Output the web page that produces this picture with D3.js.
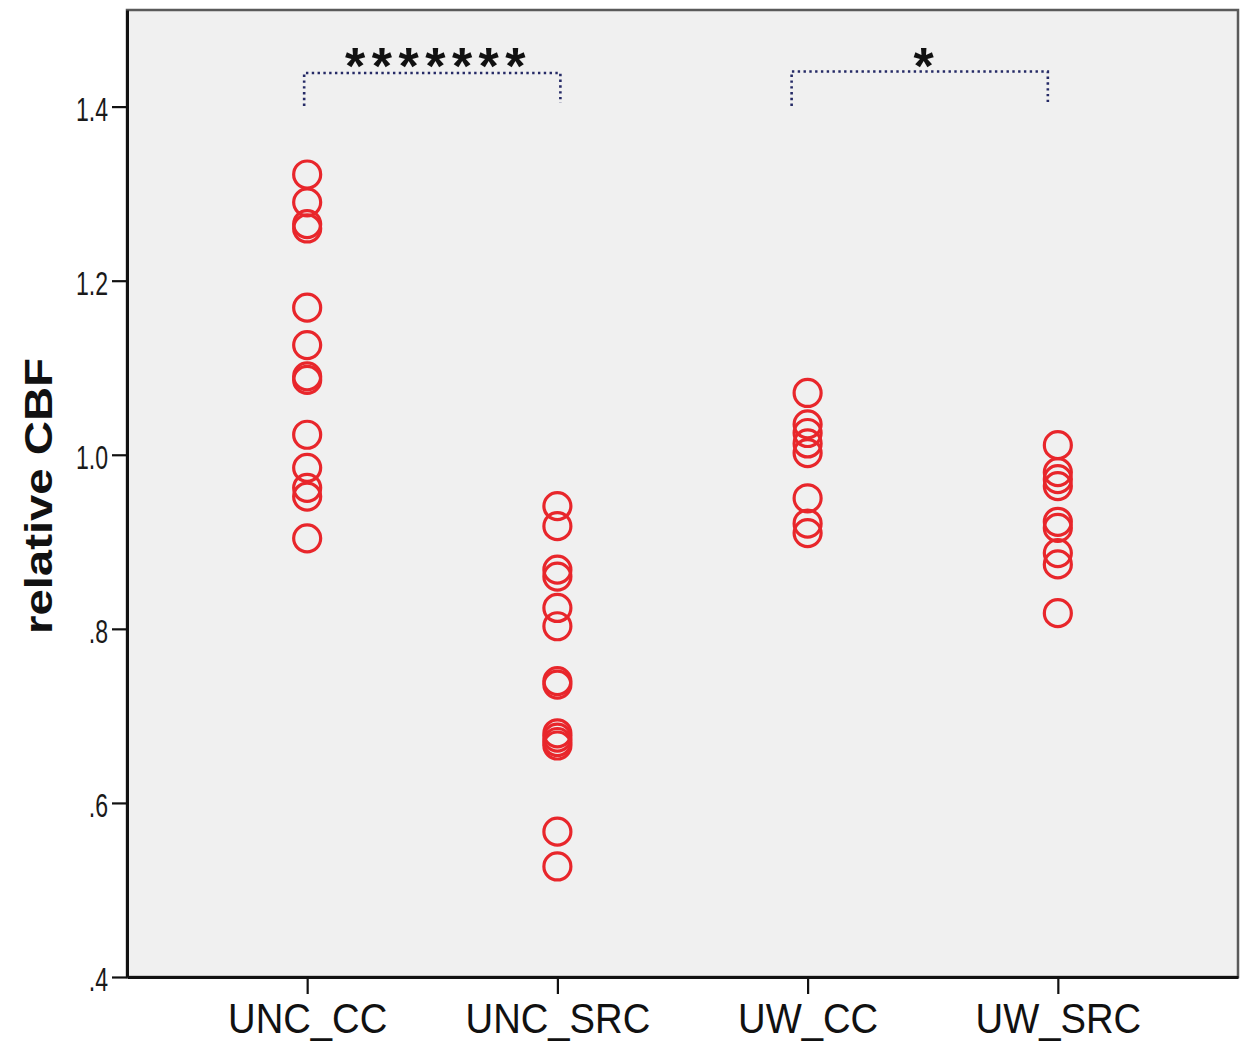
<!DOCTYPE html>
<html>
<head>
<meta charset="utf-8">
<script src="https://cdn.jsdelivr.net/npm/d3@7"></script>
<style>
  body { margin: 0; background: #fff; }
  svg text { font-family: "Liberation Sans", Arial, sans-serif; }
</style>
</head>
<body>
<div id="chart"></div>
<script>
// categories
const groups = ["UNC_CC", "UNC_SRC", "UW_CC", "UW_SRC"];

// relative CBF values per group
const uncCC  = [1.322, 1.290, 1.265, 1.260, 1.169, 1.126, 1.090, 1.086, 1.023, 0.985, 0.962, 0.952, 0.904];
const uncSRC = [0.941, 0.918, 0.868, 0.860, 0.824, 0.803, 0.740, 0.736, 0.680, 0.675, 0.670, 0.666, 0.567, 0.527];
const uwCC   = [1.071, 1.035, 1.025, 1.013, 1.002, 0.950, 0.921, 0.910];
const uwSRC  = [1.011, 0.980, 0.972, 0.964, 0.923, 0.916, 0.887, 0.874, 0.818];

const yTicks = [0.4, 0.6, 0.8, 1.0, 1.2, 1.4];

// significance brackets
const comparisons = [
    {from: "UNC_CC", to: "UNC_SRC", label: "*******"},
    {from: "UW_CC",  to: "UW_SRC",  label: "*"}
];

const seriesByGroup = [uncCC, uncSRC, uwCC, uwSRC];
const points = [];
groups.forEach(function (g, i) {
    seriesByGroup[i].forEach(function (v) { points.push({group: g, value: v}); });
});

var margin = {top: 10, right: 2, bottom: 74, left: 127},
    width = 1240 - margin.left - margin.right,
    height = 1051 - margin.top - margin.bottom;

var svg = d3.select("#chart")
    .append("svg")
    .attr("width", 1240)
    .attr("height", 1051)
    .append("g")
    .attr("transform", "translate(" + margin.left + "," + margin.top + ")");

var x = d3.scalePoint()
    .domain(groups)
    .range([0, width])
    .padding(0.72);

var y = d3.scaleLinear()
    .domain([0.4, 1.511])
    .range([height, 0]);

// plot background + frame (top/right grey)
svg.append("rect")
    .attr("width", width)
    .attr("height", height)
    .attr("fill", "#f0f0f0")
    .attr("stroke", "#5a5a5a")
    .attr("stroke-width", 2.5);

// Y axis
var yFmt = d3.format(".1f");
var yAxis = svg.append("g")
    .call(d3.axisLeft(y)
        .tickValues(yTicks)
        .tickSize(15)
        .tickSizeOuter(0)
        .tickFormat(function (d) { return d >= 1 ? yFmt(d) : yFmt(d).replace(/^0/, ""); }));
yAxis.select(".domain").attr("stroke", "#111").attr("stroke-width", 3);
yAxis.selectAll(".tick line").attr("stroke", "#111").attr("stroke-width", 2.2);
yAxis.selectAll(".tick text")
    .attr("x", -19 / 0.7)
    .attr("dy", "0.42em")
    .attr("transform", "scale(0.7,1)")
    .style("font-size", "33px")
    .attr("fill", "#1a1a1a");

// X axis
var xAxis = svg.append("g")
    .attr("transform", "translate(0," + height + ")")
    .call(d3.axisBottom(x).tickSize(17).tickSizeOuter(0));
xAxis.select(".domain").attr("stroke", "#111").attr("stroke-width", 3);
xAxis.selectAll(".tick line").attr("stroke", "#111").attr("stroke-width", 2.2);
xAxis.selectAll(".tick text")
    .attr("y", 0)
    .attr("dy", 0)
    .attr("transform", "translate(0,56) scale(0.91,1)")
    .style("font-size", "42px")
    .attr("fill", "#111");

// Y axis title
svg.append("text")
    .attr("transform", "translate(" + (52 - margin.left) + "," + (496 - margin.top) + ") rotate(-90)")
    .attr("text-anchor", "middle")
    .attr("textLength", 276)
    .attr("lengthAdjust", "spacingAndGlyphs")
    .style("font-size", "38px")
    .style("font-weight", "bold")
    .attr("fill", "#111")
    .text("relative CBF");

// Points
svg.append("g")
    .selectAll("circle")
    .data(points)
    .enter()
    .append("circle")
    .attr("cx", function (d) { return x(d.group); })
    .attr("cy", function (d) { return y(d.value); })
    .attr("r", 13.5)
    .attr("fill", "none")
    .attr("stroke", "#e8262b")
    .attr("stroke-width", 3.2);

// bracket layout (pixel offsets from the category positions)
var bracketLayout = [
    {dx0: -3,  dx1: 3,   top: 73,   b0: 106, b1: 103, tx: 3, ty: 84},
    {dx0: -16, dx1: -10, top: 71.5, b0: 106, b1: 102, tx: 4, ty: 84}
];

var brackets = svg.append("g").attr("transform", "translate(0," + (-margin.top) + ")");
comparisons.forEach(function (c, i) {
    var L = bracketLayout[i];
    var x0 = x(c.from) + L.dx0, x1 = x(c.to) + L.dx1;
    brackets.append("path")
        .attr("d", "M" + x0 + "," + L.b0 + "V" + L.top + "H" + x1 + "V" + L.b1)
        .attr("fill", "none")
        .attr("stroke", "#252a66")
        .attr("stroke-width", 2.6)
        .attr("stroke-dasharray", "2.4,3.4");
    var spacing = c.label.length > 1 ? 6.5 : 0;
    brackets.append("text")
        .attr("x", (x0 + x1) / 2 + L.tx + spacing / 2)
        .attr("y", L.ty)
        .attr("text-anchor", "middle")
        .style("font-size", "52px")
        .style("font-weight", "bold")
        .style("letter-spacing", spacing + "px")
        .attr("fill", "#111")
        .text(c.label);
});
</script>
</body>
</html>
